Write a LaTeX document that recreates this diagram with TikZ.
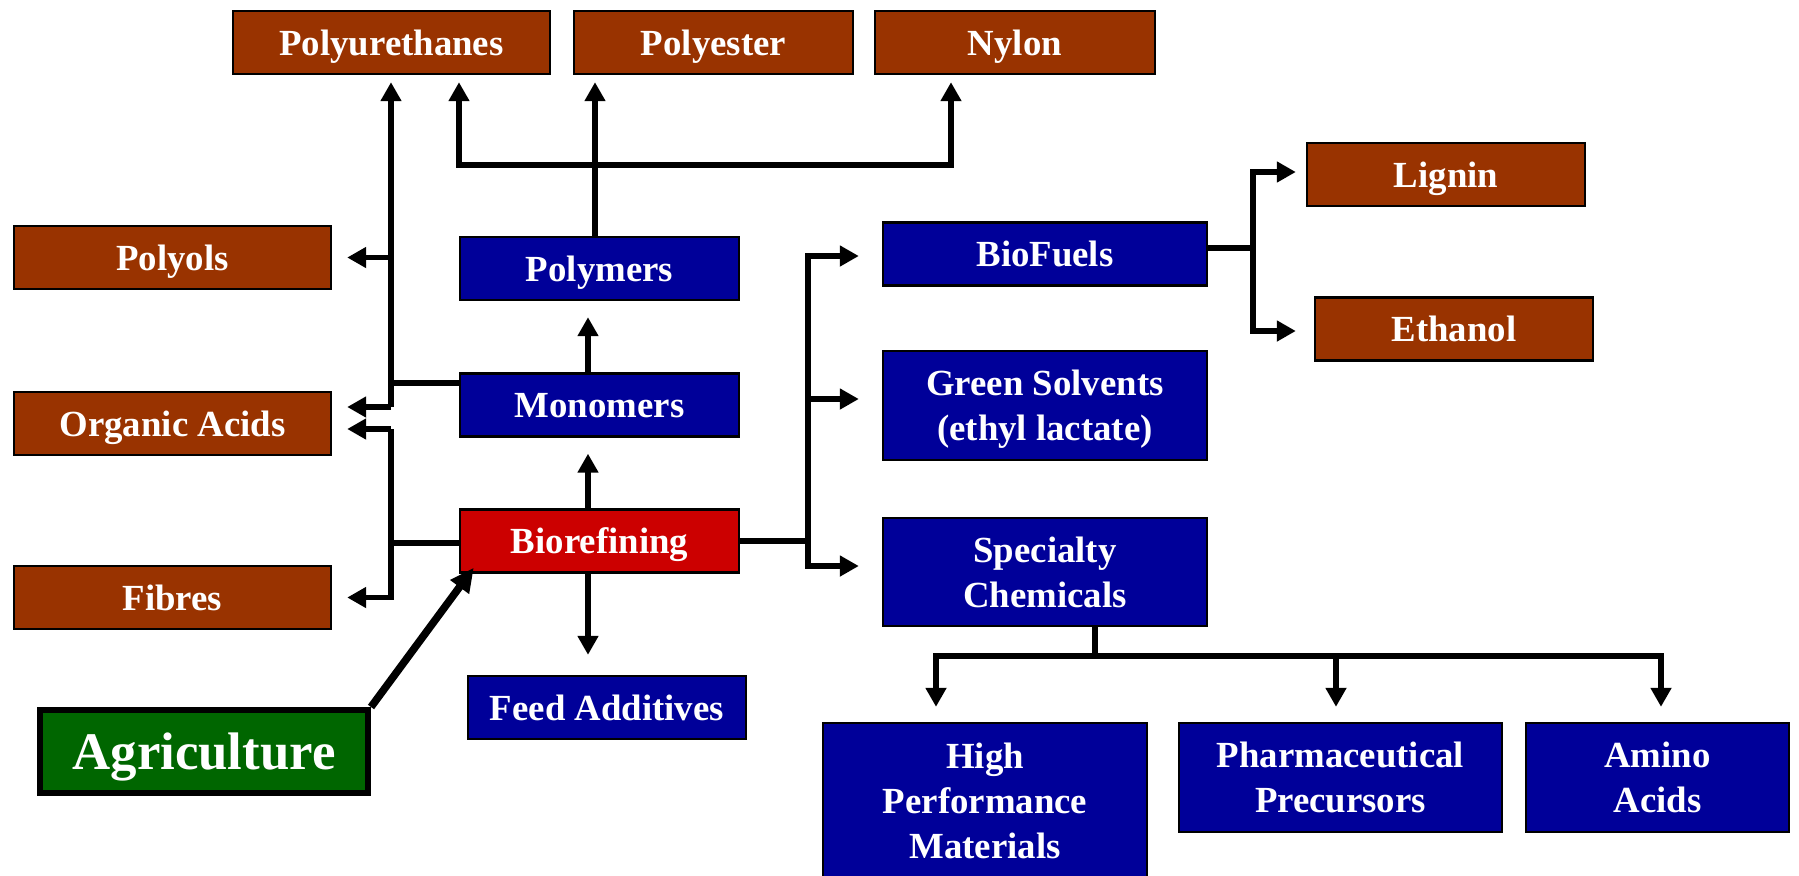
\documentclass[tikz,border=0pt]{standalone}
\usepackage{fontspec}
\setmainfont{Liberation Serif}
\usepackage{tikz}
\usetikzlibrary{arrows.meta,calc}
\definecolor{rustbrown}{HTML}{993300}
\definecolor{deepblue}{HTML}{000099}
\definecolor{signalred}{HTML}{CC0000}
\definecolor{farmgreen}{HTML}{006600}

\begin{document}
\begin{tikzpicture}[x=0.5pt,y=-0.5pt,>={Triangle[length=9.5pt,width=10pt]},
    wire/.style={line width=2.8pt},
    box/.style={draw=black,line width=1.2pt,text=white,align=center,inner sep=0pt,
      text depth=-2.2pt,font={\fontsize{18.4}{22.6}\selectfont\bfseries},minimum height=31.5pt},
    brownbox/.style={box,fill=rustbrown},
    bluebox/.style={box,fill=deepblue}]
  \useasboundingbox (0,0) rectangle (1799,875);

  \node (pur) [brownbox,minimum width=158.5pt] at (391.5,42.5) {Polyurethanes};
  \node (pest) [brownbox,minimum width=139.5pt] at (713.5,42.5) {Polyester};
  \node (nyl) [brownbox,minimum width=140pt] at (1015,42.5) {Nylon};
  \node (pyo) [brownbox,minimum width=158.5pt] at (172.5,257.5) {Polyols};
  \node (acid) [brownbox,minimum width=158.5pt] at (172.5,423.5) {Organic Acids};
  \node (fib) [brownbox,minimum width=158.5pt] at (172.5,597.5) {Fibres};
  \node (poly) [bluebox,minimum width=139.5pt] at (599.5,268.5) {Polymers};
  \node (mono) [bluebox,minimum width=139.5pt] at (599.5,405) {Monomers};
  \node (bio) [box,fill=signalred,minimum width=139.5pt] at (599.5,541) {Biorefining};
  \node (feed) [bluebox,minimum width=139pt] at (607,707.5) {Feed Additives};
  \node (agr) [box,fill=farmgreen,line width=3pt,minimum width=164pt,minimum height=41.5pt,
    font={\fontsize{26.4}{30}\selectfont\bfseries}] at (204,751.5) {Agriculture};
  \node (fuel) [bluebox,minimum width=162pt] at (1045,254) {BioFuels};
  \node (green) [bluebox,minimum width=162pt,minimum height=54.5pt] at (1045,405.5) {Green Solvents\\(ethyl lactate)};
  \node (spec) [bluebox,minimum width=162pt,minimum height=54pt] at (1045,572) {Specialty\\Chemicals};
  \node (lig) [brownbox,minimum width=139pt] at (1446,174.5) {Lignin};
  \node (eth) [brownbox,minimum width=139pt] at (1454,329) {Ethanol};
  \node (hpm) [bluebox,minimum width=162pt,minimum height=78pt] at (985,801) {High\\Performance\\Materials};
  \node (phar) [bluebox,minimum width=161.5pt,minimum height=54.5pt] at (1340.5,777.5) {Pharmaceutical\\Precursors};
  \node (amino) [bluebox,minimum width=131.5pt,minimum height=54.5pt] at (1657.5,777.5) {Amino\\Acids};

  \coordinate (lt) at (391,383);
  \coordinate (lb) at (391,407);
  \coordinate (lc) at (391,429);
  \coordinate (ld) at (391,543);
  \coordinate (pl) at (459,165);
  \coordinate (pm) at (595,165);
  \coordinate (pr) at (951,165);
  \coordinate (cx) at (588,0);
  \coordinate (rt) at (808,256);
  \coordinate (rm) at (808,399);
  \coordinate (rb) at (808,566);
  \coordinate (bt) at (1253,172);
  \coordinate (bj) at (1253,248);
  \coordinate (bb) at (1253,331);
  \coordinate (sl) at (936,656);
  \coordinate (sj) at (1095,656);
  \coordinate (sm) at (1336,656);
  \coordinate (sr) at (1661,656);

  \draw[wire] (mono.west |- lt) -- (lt);
  \draw[wire,->,shorten >=3.5pt] (lb) -- (lb |- pur.south);
  \draw[wire,->,shorten >=7.5pt] (lb |- pyo.east) -- (pyo.east);
  \draw[wire,->,shorten >=7.5pt] (lb) -- (lb -| acid.east);
  \draw[wire] (bio.west |- ld) -- (ld);
  \draw[wire,->,shorten >=7.5pt] (lc) -- (lc -| acid.east);
  \draw[wire,->,shorten >=7.5pt] (lc) -- (lc |- fib.east) -- (fib.east);

  \draw[wire,->,shorten >=3.5pt] (pm |- poly.north) -- (pm |- pest.south);
  \draw[wire,->,shorten >=3.5pt] (pr) -- (pl) -- (pl |- pur.south);
  \draw[wire,->,shorten >=3.5pt] (pl) -- (pr) -- (pr |- nyl.south);

  \draw[wire,->,shorten >=8pt] (cx |- mono.north) -- (cx |- poly.south);
  \draw[wire,->,shorten >=8pt] (cx |- bio.north) -- (cx |- mono.south);
  \draw[wire,->,shorten >=10pt] (cx |- bio.south) -- (cx |- feed.north);

  \draw[wire] (bio.east) -- (bio.east -| rt);
  \draw[wire,->,shorten >=11.5pt] (rb) -- (rt) -- (rt -| fuel.west);
  \draw[wire,->,shorten >=11.5pt] (rm) -- (rm -| green.west);
  \draw[wire,->,shorten >=11.5pt] (rt) -- (rb) -- (rb -| spec.west);

  \draw[wire] (fuel.east |- bj) -- (bj);
  \draw[wire,->,shorten >=5pt] (bb) -- (bt) -- (bt -| lig.west);
  \draw[wire,->,shorten >=9pt] (bt) -- (bb) -- (bb -| eth.west);

  \draw[wire] (spec.south -| sj) -- (sj);
  \draw[wire,->,shorten >=7.5pt] (sr) -- (sl) -- (sl |- hpm.north);
  \draw[wire,->,shorten >=7.5pt] (sm) -- (sm |- phar.north);
  \draw[wire,->,shorten >=7.5pt] (sl) -- (sr) -- (sr |- amino.north);

  \draw[line width=3.8pt,-{Triangle[length=12pt,width=11pt]}] (agr.north east) -- ($(bio.south west)+(15,-6)$);
\end{tikzpicture}
\end{document}
